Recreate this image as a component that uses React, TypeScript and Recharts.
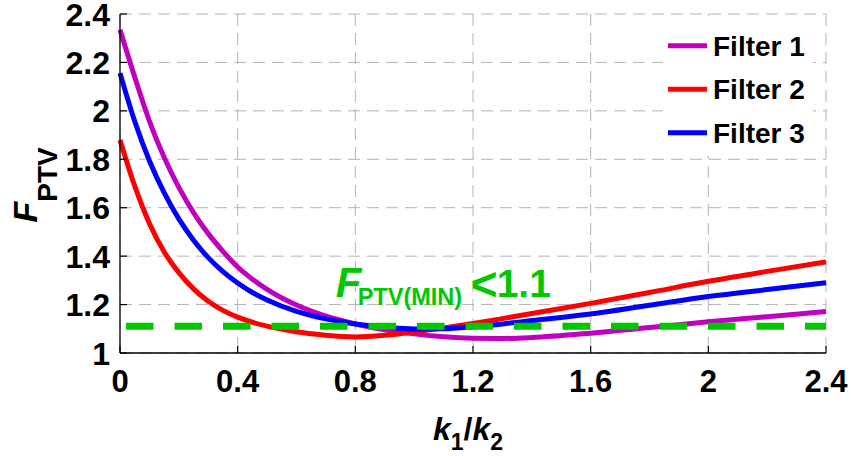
import React from 'react';
import { LineChart, Line, XAxis, YAxis, CartesianGrid, Legend, ReferenceDot } from 'recharts';

// k1/k2 sample positions
const kRatio = [0, 0.05, 0.1, 0.15, 0.2, 0.25, 0.3, 0.35, 0.4, 0.45, 0.5, 0.6, 0.7, 0.8, 0.9, 1.0, 1.1, 1.2, 1.3, 1.4, 1.6, 1.8, 2.0, 2.2, 2.4];
// F_PTV per filter
const filter1 = [2.335, 2.14, 1.958, 1.808, 1.684, 1.58, 1.493, 1.42, 1.355, 1.305, 1.263, 1.198, 1.152, 1.12, 1.096, 1.079, 1.067, 1.061, 1.06, 1.064, 1.082, 1.105, 1.129, 1.15, 1.171];
const filter2 = [1.88, 1.69, 1.535, 1.418, 1.332, 1.265, 1.214, 1.176, 1.148, 1.127, 1.111, 1.088, 1.073, 1.066, 1.073, 1.087, 1.104, 1.122, 1.142, 1.163, 1.205, 1.25, 1.296, 1.337, 1.376];
const filter3 = [2.156, 1.957, 1.794, 1.662, 1.554, 1.466, 1.394, 1.336, 1.289, 1.25, 1.219, 1.172, 1.141, 1.12, 1.107, 1.099, 1.1, 1.108, 1.12, 1.134, 1.161, 1.197, 1.233, 1.262, 1.29];
const thresholdValue = 1.11;

const xTicks = [0, 0.4, 0.8, 1.2, 1.6, 2, 2.4];
const yTicks = [1, 1.2, 1.4, 1.6, 1.8, 2, 2.2, 2.4];
const seriesNames = ['Filter 1', 'Filter 2', 'Filter 3'];
const seriesColors = ['#bf00bf', '#ff0000', '#0000ff'];
const green = '#00c800';

const rows = kRatio.map((k, i) => ({
  k,
  f1: filter1[i],
  f2: filter2[i],
  f3: filter3[i],
  threshold: thresholdValue,
}));

const FONT = '"Liberation Sans", Arial, sans-serif';
const TICK_LEN = 7;

const BottomTick = (props: any) => {
  const { x, y, payload } = props;
  return (
    <g>
      <line x1={x} x2={x} y1={y} y2={y - TICK_LEN} stroke="#000" strokeWidth={1.2} />
      <text x={x} y={y + 39} textAnchor="middle" fontFamily={FONT} fontWeight="bold" fontSize={31} fill="#000">
        {String(payload.value)}
      </text>
    </g>
  );
};

const LeftTick = (props: any) => {
  const { x, y, payload } = props;
  return (
    <g>
      <line x1={x} x2={x + TICK_LEN} y1={y} y2={y} stroke="#000" strokeWidth={1.2} />
      <text x={x - 10} y={y + 11.5} textAnchor="end" fontFamily={FONT} fontWeight="bold" fontSize={32} fill="#000">
        {String(payload.value)}
      </text>
    </g>
  );
};

const TopTick = (props: any) => {
  const { x, y } = props;
  return <line x1={x} x2={x} y1={y} y2={y + TICK_LEN} stroke="#000" strokeWidth={1.2} />;
};

const RightTick = (props: any) => {
  const { x, y } = props;
  return <line x1={x} x2={x - TICK_LEN} y1={y} y2={y} stroke="#000" strokeWidth={1.2} />;
};

const XLabel = (props: any) => {
  const vb = props.viewBox || { x: 0, y: 0, width: 0, height: 0 };
  const cx = vb.x + vb.width / 2;
  const x0 = cx - 40;
  const y0 = vb.y + 87;
  return (
    <text x={x0} y={y0} fontFamily={FONT} fontWeight="bold" fill="#000">
      <tspan fontStyle="italic" fontSize={32}>k</tspan>
      <tspan fontSize={23} dy={10}>1</tspan>
      <tspan fontSize={32} dy={-10}>/</tspan>
      <tspan fontStyle="italic" fontSize={32}>k</tspan>
      <tspan fontSize={23} dy={10}>2</tspan>
    </text>
  );
};

const YLabel = (props: any) => {
  const vb = props.viewBox || { x: 0, y: 0, width: 0, height: 0 };
  const bx = vb.x + 37;
  const by = vb.y + vb.height / 2 + 39;
  return (
    <text x={bx} y={by} transform={`rotate(-90 ${bx} ${by})`} fontFamily={FONT} fontWeight="bold" fill="#000">
      <tspan fontStyle="italic" fontSize={34}>F</tspan>
      <tspan fontSize={28} dy={20}>PTV</tspan>
    </text>
  );
};

const Annotation = (props: any) => {
  const { cx, cy } = props;
  if (cx == null || cy == null) return null;
  return (
    <g fontFamily={FONT} fontWeight="bold">
      <text x={cx - 2} y={cy} fontStyle="italic" fontSize={42} fill={green}>F</text>
      <text x={cx + 20} y={cy + 8} fontSize={23.5} fill={green}>PTV(MIN)</text>
      <text x={cx + 133} y={cy + 3} fontSize={46} fill={green}>&lt;</text>
      <text x={cx + 159} y={cy} fontSize={39} fill={green}>1.1</text>
    </g>
  );
};

const LegendContent = () => (
  <svg width={150} height={140} style={{ display: 'block', background: '#fff' }}>
    {seriesNames.map((name, i) => {
      const yy = 29.7 + i * 43.5;
      return (
        <g key={name}>
          <line x1={5} x2={44} y1={yy} y2={yy} stroke={seriesColors[i]} strokeWidth={5} />
          <text x={50} y={yy + 10} fontFamily={FONT} fontWeight="bold" fontSize={28} fill="#000">
            {name}
          </text>
        </g>
      );
    })}
  </svg>
);

export default function App() {
  return (
    <div style={{ position: 'absolute', left: 0, top: 0, width: 851, height: 456 }}>
      <LineChart width={851} height={456} data={rows} margin={{ top: 14, right: 25, bottom: 0, left: 0 }}>
        <CartesianGrid stroke="#b4b4b4" strokeDasharray="12 7" strokeWidth={1} />
        <XAxis
          dataKey="k"
          type="number"
          domain={[0, 2.4]}
          ticks={xTicks}
          height={103}
          tickSize={0}
          tickMargin={0}
          tickLine={false}
          tick={<BottomTick />}
          axisLine={{ stroke: '#000', strokeWidth: 1.3 }}
          label={{ content: <XLabel /> }}
          interval={0}
        />
        <XAxis
          xAxisId="top"
          orientation="top"
          dataKey="k"
          type="number"
          domain={[0, 2.4]}
          ticks={xTicks}
          height={0}
          tickSize={0}
          tickMargin={0}
          tickLine={false}
          tick={<TopTick />}
          axisLine={{ stroke: '#000', strokeWidth: 1.3 }}
          interval={0}
        />
        <YAxis
          type="number"
          domain={[1, 2.4]}
          ticks={yTicks}
          width={120}
          tickSize={0}
          tickMargin={0}
          tickLine={false}
          tick={<LeftTick />}
          axisLine={{ stroke: '#000', strokeWidth: 1.3 }}
          label={{ content: <YLabel /> }}
          interval={0}
        />
        <YAxis
          yAxisId="right"
          orientation="right"
          type="number"
          domain={[1, 2.4]}
          ticks={yTicks}
          width={0}
          tickSize={0}
          tickMargin={0}
          tickLine={false}
          tick={<RightTick />}
          axisLine={{ stroke: '#000', strokeWidth: 1.3 }}
          interval={0}
        />
        <Legend
          layout="vertical"
          align="center"
          verticalAlign="middle"
          wrapperStyle={{ top: 16, left: 663, width: 150, height: 140 }}
          content={<LegendContent />}
        />
        <Line type="monotone" dataKey="f1" name={seriesNames[0]} stroke={seriesColors[0]} strokeWidth={5} dot={false} isAnimationActive={false} />
        <Line type="monotone" dataKey="f2" name={seriesNames[1]} stroke={seriesColors[1]} strokeWidth={5} dot={false} isAnimationActive={false} />
        <Line type="monotone" dataKey="f3" name={seriesNames[2]} stroke={seriesColors[2]} strokeWidth={5} dot={false} isAnimationActive={false} />
        <Line
          xAxisId="top"
          yAxisId="right"
          type="linear"
          dataKey="threshold"
          stroke={green}
          strokeWidth={7}
          strokeDasharray="27.5 21"
          strokeDashoffset={-6}
          dot={false}
          isAnimationActive={false}
        />
        <ReferenceDot x={0.74} y={1.23} r={0} shape={(p: any) => <Annotation cx={p.cx} cy={p.cy} />} />
      </LineChart>
    </div>
  );
}
